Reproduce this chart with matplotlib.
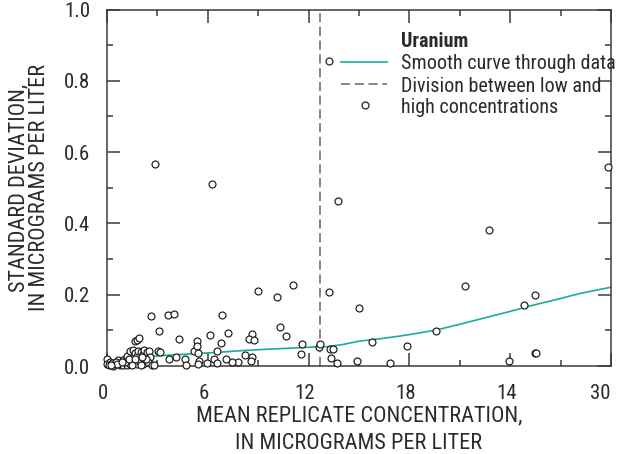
import matplotlib
matplotlib.use("Agg")
import matplotlib.pyplot as plt
import matplotlib.transforms as mtransforms
from matplotlib import font_manager

# ---- data -------------------------------------------------------------
mean_conc = [
    2.86, 6.25, 13.2, 15.36, 13.75, 22.74, 29.84,
    13.2, 15.0, 21.3, 25.5, 24.8, 19.6, 15.8, 17.84, 11.63, 11.55, 12.6, 12.7,
    13.3, 13.45, 13.33, 13.7, 14.9, 16.85, 23.9, 25.5, 25.52,
    11.05, 9.0, 10.14, 2.62, 3.63, 3.99, 6.83, 3.1, 10.3, 6.13, 7.22, 4.3,
    8.61, 8.45, 8.75, 10.63, 5.36, 5.16, 5.37, 6.8, 6.57, 5.43, 8.23, 8.61,
    8.55, 7.82, 7.44, 7.1, 6.35, 6.53, 5.48, 5.42, 5.93, 4.62, 4.7, 4.1, 3.71,
    0.0, 0.0, 0.18, 0.14, 0.38, 0.48, 0.67, 0.77, 0.81, 0.97, 0.97, 1.17,
    1.17, 1.19, 1.37, 1.37, 1.57, 1.64, 1.67, 1.8, 1.93, 1.8, 1.77, 1.83,
    2.0, 1.96, 2.16, 2.16, 2.2, 2.36, 2.48, 2.56, 2.46, 2.66, 2.8, 3.05,
    3.15, 0.3, 0.55, 1.45, 1.05, 2.3, 0.6, 1.5, 2.0, 0.25, 0.9, 1.3, 1.65, 2.1,
]
std_dev = [
    0.566, 0.511, 0.855, 0.733, 0.463, 0.382, 0.559,
    0.208, 0.164, 0.224, 0.198, 0.170, 0.099, 0.067, 0.056, 0.063, 0.034, 0.054, 0.061,
    0.047, 0.048, 0.022, 0.008, 0.015, 0.008, 0.014, 0.037, 0.036,
    0.226, 0.210, 0.194, 0.141, 0.143, 0.146, 0.142, 0.099, 0.108, 0.086, 0.093, 0.077,
    0.090, 0.077, 0.073, 0.085, 0.069, 0.043, 0.056, 0.065, 0.042, 0.037, 0.031, 0.025,
    0.015, 0.011, 0.011, 0.019, 0.020, 0.009, 0.015, 0.007, 0.009, 0.020, 0.002, 0.024, 0.019,
    0.020, 0.005, 0.012, 0.002, 0.001, 0.007, 0.017, 0.002, 0.009, 0.017, 0.003, 0.024,
    0.003, 0.028, 0.043, 0.006, 0.045, 0.036, 0.071, 0.073, 0.079, 0.028, 0.007, 0.042,
    0.039, 0.012, 0.034, 0.007, 0.044, 0.040, 0.043, 0.026, 0.012, 0.003, 0.002, 0.041,
    0.039, 0.008, 0.012, 0.015, 0.010, 0.020, 0.005, 0.002, 0.002, 0.004, 0.012, 0.020, 0.020, 0.025,
]

# smooth curve through the data
curve_x = [0.0, 0.5, 1.0, 1.5, 2.5, 3.5, 5.0, 6.5, 8.0, 9.5, 11.0, 12.6, 13.1,
           14.0, 15.06, 16.2, 17.44, 18.5, 19.6, 21.0, 22.4, 23.9, 25.4, 26.8,
           28.2, 30.0]
curve_y = [0.002, 0.010, 0.017, 0.021, 0.026, 0.030, 0.034, 0.038, 0.043,
           0.047, 0.050, 0.054, 0.054, 0.060, 0.070, 0.076, 0.084, 0.092,
           0.101, 0.117, 0.134, 0.152, 0.171, 0.187, 0.204, 0.221]

division_x = 12.68

x_ticks = [0, 6, 12, 18, 24, 30]
x_tick_labels = ["0", "6", "12", "18", "14", "30"]
y_ticks = [0.0, 0.2, 0.4, 0.6, 0.8, 1.0]
y_tick_labels = ["0.0", "0.2", "0.4", "0.6", "0.8", "1.0"]


# ---- fonts: prefer a narrow sans if one is installed ---------------------
def fn_all(fl):
    return " ".join(f.fname.lower() for f in fl)


def pick_narrow_font():
    prefs = ["Liberation Sans Narrow", "Roboto Condensed", "Open Sans Condensed",
             "Noto Sans Condensed", "DejaVu Sans Condensed", "Noto Sans Display Condensed"]
    found = {}
    for f in font_manager.fontManager.ttflist:
        fn = f.fname.lower().replace("-", "").replace("_", "")
        cond = ("condensed" in fn or "narrow" in fn or
                str(f.stretch).lower() in ("condensed", "semi-condensed", "extra-condensed"))
        if not cond:
            continue
        if f.style != "normal" or "semi" in fn or "extra" in fn or "ultra" in fn:
            continue
        found.setdefault((f.name, str(f.stretch)), []).append(f)
    for p in prefs:
        for (name, stretch), fl in found.items():
            if name == p or (p.split()[-1].lower() in fn_all(fl)
                             and name == " ".join(p.split()[:-1])):
                return name, stretch
    if found:
        return next(iter(found))
    return None


choice = pick_narrow_font()
if choice is not None:
    plt.rcParams["font.family"] = [choice[0], "DejaVu Sans"]
    try:
        plt.rcParams["font.stretch"] = (choice[1] if choice[1] not in ("normal", "500")
                                        else "condensed")
    except Exception:
        pass
    FS_LEG, FS_TICK, FS_LAB = 14.5, 15.0, 16.0
else:
    plt.rcParams["font.family"] = ["Liberation Sans", "DejaVu Sans"]
    FS_LEG, FS_TICK, FS_LAB = 12.5, 13.0, 13.0

TEXT = "#2b2b2b"
AXC = "#3a3a3a"
TEAL = "#17ad9a"
OLIVE = "#6a6650"

fig = plt.figure(figsize=(6.23, 4.54), dpi=100)
ax = fig.add_axes([107 / 623, 1 - 366 / 454, 504 / 623, 356.5 / 454])

ax.plot(curve_x, curve_y, color=TEAL, lw=1.2, zorder=2)
ax.axvline(division_x, color=OLIVE, lw=1.1, dashes=(6, 3), zorder=2)
ax.plot(mean_conc, std_dev, linestyle="none", marker="o", ms=5.0,
        mfc="white", mec="#1a1a1a", mew=0.85, zorder=3, clip_on=False)

ax.set_xlim(0, 30)
ax.set_ylim(0, 1.0)
ax.set_xticks(x_ticks)
ax.set_xticklabels(x_tick_labels)
ax.set_yticks(y_ticks)
ax.set_yticklabels(y_tick_labels)
ax.set_xticks([3, 9, 15, 21, 27], minor=True)
ax.set_yticks([0.1, 0.3, 0.5, 0.7, 0.9], minor=True)
ax.tick_params(which="both", direction="in", top=True, right=True,
               color=AXC, width=1.1, labelcolor=TEXT, labelsize=FS_TICK)
ax.tick_params(which="major", length=9.5)
ax.tick_params(which="minor", length=4.5)
ax.tick_params(axis="x", which="major", pad=13)
ax.tick_params(axis="y", which="major", pad=12)
for s in ax.spines.values():
    s.set_color(AXC)
    s.set_linewidth(1.1)

# nudge x tick labels slightly left
for lab in ax.get_xticklabels():
    dx = -11 if lab.get_text() == "30" else -4
    off = mtransforms.ScaledTranslation(dx / 100, 0, fig.dpi_scale_trans)
    lab.set_transform(lab.get_transform() + off)

ax.set_xlabel("MEAN REPLICATE CONCENTRATION,\nIN MICROGRAMS PER LITER",
              color=TEXT, fontsize=FS_LAB, linespacing=1.36, labelpad=2)
ax.set_ylabel("STANDARD DEVIATION,\nIN MICROGRAMS PER LITER",
              color=TEXT, fontsize=FS_LAB, linespacing=0.98, labelpad=10)

# ---- legend ------------------------------------------------------------
tr = ax.transAxes
hx0, hx1, tx = 0.464, 0.556, 0.583
ax.text(tx, 0.8945, "Uranium", transform=tr, fontweight="bold", color=TEXT,
        fontsize=FS_LEG, va="baseline", ha="left")
ax.plot([hx0, hx1], [0.853, 0.853], transform=tr, color=TEAL, lw=1.2, clip_on=False)
ax.text(tx, 0.832, "Smooth curve through data", transform=tr, color=TEXT,
        fontsize=FS_LEG, va="baseline", ha="left")
ax.plot([hx0, hx1], [0.791, 0.791], transform=tr, color=OLIVE, lw=1.1,
        dashes=(6, 3), clip_on=False)
ax.text(tx, 0.769, "Division between low and", transform=tr, color=TEXT,
        fontsize=FS_LEG, va="baseline", ha="left")
ax.text(tx, 0.7106, "high concentrations", transform=tr, color=TEXT,
        fontsize=FS_LEG, va="baseline", ha="left")

fig.savefig("out.png", dpi=100)
